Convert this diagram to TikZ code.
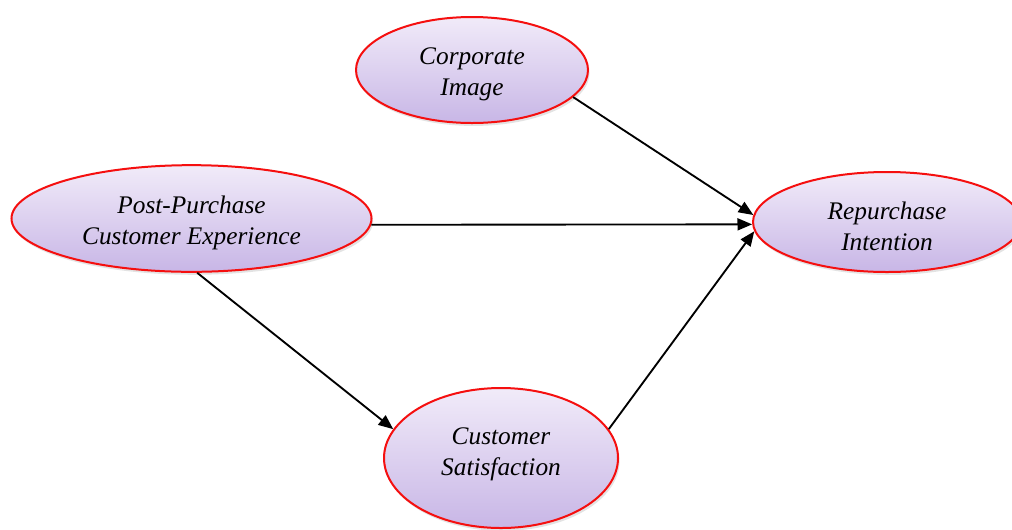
\documentclass[tikz,border=0pt]{standalone}
\usepackage{fontspec}
\setmainfont{Liberation Serif}
\usetikzlibrary{shapes.geometric,arrows.meta,shadows}
\definecolor{lavtop}{RGB}{241,235,249}
\definecolor{lavbot}{RGB}{200,182,230}
\definecolor{rimred}{RGB}{245,15,15}
\tikzset{
  construct/.style={ellipse, draw=rimred, line width=1.5pt, inner sep=0pt,
    top color=lavtop, bottom color=lavbot,
    drop shadow={opacity=0.22, shadow xshift=1.2pt, shadow yshift=-2.2pt}},
  caption/.style={align=center, inner sep=0pt,
    font=\fontsize{19}{23}\selectfont\itshape},
  path/.style={line width=1.4pt, -{Triangle[length=11pt, width=9pt]}}
}
\begin{document}
\begin{tikzpicture}[x=0.75pt, y=-0.75pt]
  \useasboundingbox (0,0) rectangle (1012,529);
  \clip (0,0) rectangle (1012,529);
  \fill[white] (0,0) rectangle (1012,529);

  % latent constructs
  \node[construct, minimum width=174pt, minimum height=79.5pt] (corp) at (472,70) {};
  \node[construct, minimum width=270pt, minimum height=80pt] (ppce) at (191.5,218.5) {};
  \node[construct, minimum width=201pt, minimum height=75pt] (rep) at (887,222) {};
  \node[construct, minimum width=175.5pt, minimum height=105pt] (cs) at (501,458) {};

  % construct names
  \node[caption] (corp-t) at (472,74) {Corporate\\Image};
  \node[caption] (ppce-t) at (191.5,223) {Post-Purchase\\Customer Experience};
  \node[caption] (rep-t) at (887,226) {Repurchase\\Intention};
  \node[caption] (cs-t) at (501,454) {Customer\\Satisfaction};

  % hypothesised paths
  \draw[path] (corp.-15) -- (rep.177);
  \draw[path] (ppce.-2) -- (rep.181);
  \draw[path] (cs.15) -- (rep.184);
  \draw[path] (ppce.-84) -- (cs.165);
\end{tikzpicture}
\end{document}
